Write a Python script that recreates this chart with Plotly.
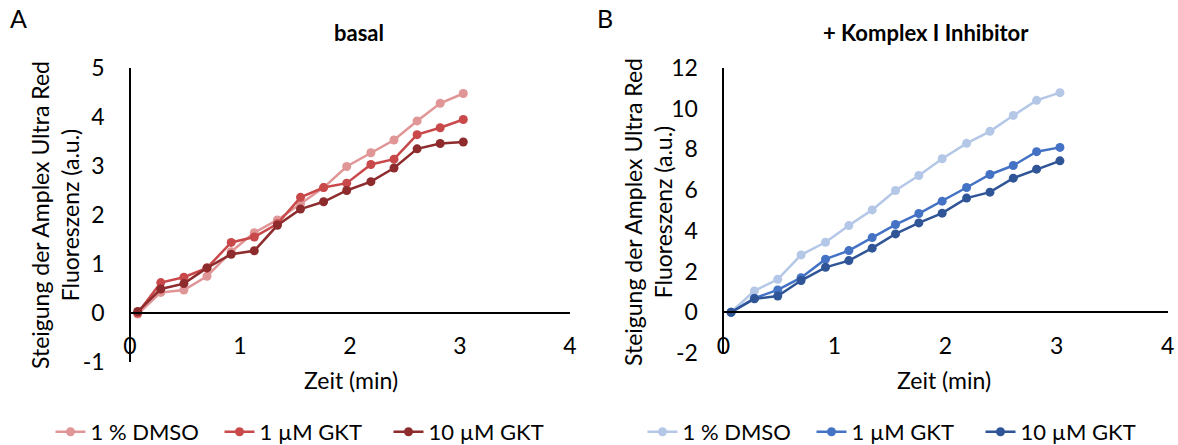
import plotly.graph_objects as go

W, H = 1178, 445

# ---- data ----
time_min = [0.07, 0.28, 0.49, 0.70, 0.92, 1.13, 1.34, 1.55, 1.76, 1.97, 2.19, 2.40, 2.61, 2.82, 3.03]

basal_dmso = [-0.02, 0.42, 0.47, 0.75, 1.25, 1.64, 1.90, 2.23, 2.56, 2.99, 3.27, 3.53, 3.92, 4.28, 4.48]
basal_gkt1 = [0.00, 0.62, 0.73, 0.92, 1.44, 1.55, 1.82, 2.36, 2.56, 2.65, 3.03, 3.14, 3.64, 3.78, 3.95]
basal_gkt10 = [0.03, 0.49, 0.60, 0.92, 1.20, 1.27, 1.79, 2.12, 2.27, 2.50, 2.68, 2.96, 3.35, 3.46, 3.49]

inh_dmso = [0.00, 1.05, 1.62, 2.82, 3.44, 4.26, 5.03, 5.98, 6.72, 7.54, 8.30, 8.89, 9.67, 10.41, 10.79]
inh_gkt1 = [0.00, 0.69, 1.10, 1.70, 2.61, 3.03, 3.67, 4.31, 4.85, 5.46, 6.13, 6.77, 7.21, 7.89, 8.10]
inh_gkt10 = [0.00, 0.66, 0.80, 1.56, 2.21, 2.54, 3.15, 3.85, 4.39, 4.87, 5.61, 5.90, 6.59, 7.03, 7.44]

series_names = ["1 % DMSO", "1 µM GKT", "10 µM GKT"]
red_colors = ["#E09596", "#C9494B", "#8E2B2D"]
blue_colors = ["#B4C7E7", "#4472C4", "#2F5597"]

x_ticks = [0, 1, 2, 3, 4]
y_ticks_left = [-1, 0, 1, 2, 3, 4, 5]
y_ticks_right = [-2, 0, 2, 4, 6, 8, 10, 12]

FONT = "Lato, 'Open Sans', sans-serif"
FS = 23

def px(x):
    return x / W

def py(y):
    return (H - y) / H

fig = go.Figure()

for name, ys, col in zip(series_names, [basal_dmso, basal_gkt1, basal_gkt10], red_colors):
    fig.add_trace(go.Scatter(x=time_min, y=ys, mode="lines+markers", name=name,
                             line=dict(color=col, width=2.5), marker=dict(color=col, size=9),
                             xaxis="x", yaxis="y", legend="legend"))
for name, ys, col in zip(series_names, [inh_dmso, inh_gkt1, inh_gkt10], blue_colors):
    fig.add_trace(go.Scatter(x=time_min, y=ys, mode="lines+markers", name=name,
                             line=dict(color=col, width=2.5), marker=dict(color=col, size=9),
                             xaxis="x2", yaxis="y2", legend="legend2"))

tickfont = dict(family=FONT, size=FS, color="#000")

common_x = dict(range=[0, 4], tickvals=x_ticks, showgrid=False, zeroline=False,
                showline=True, linecolor="#000", linewidth=1.5,
                ticks="outside", ticklen=13, tickcolor="rgba(0,0,0,0)",
                tickfont=tickfont, anchor="free")
common_y = dict(showgrid=False, zeroline=False, showline=True, linecolor="#000", linewidth=1.5,
                ticks="outside", ticklen=20, tickcolor="rgba(0,0,0,0)", tickfont=tickfont)

legend_common = dict(orientation="h", yanchor="middle", font=dict(family=FONT, size=22),
                     bgcolor="rgba(0,0,0,0)", entrywidthmode="pixels", entrywidth=124)

fig.update_layout(
    width=W, height=H,
    margin=dict(l=0, r=0, t=0, b=0, autoexpand=False),
    paper_bgcolor="white", plot_bgcolor="rgba(0,0,0,0)",
    font=dict(family=FONT, color="#000"),
    xaxis=dict(domain=[px(130), px(570)], position=py(313), **common_x),
    yaxis=dict(domain=[py(362), py(68)], range=[-1, 5], tickvals=y_ticks_left,
               ticktext=[str(v) for v in y_ticks_left],
               anchor="free", position=px(130), **common_y),
    xaxis2=dict(domain=[px(723.3), px(1167.7)], position=py(312.3), **common_x),
    yaxis2=dict(domain=[py(353), py(68)], range=[-2, 12], tickvals=y_ticks_right,
                ticktext=[str(v) for v in y_ticks_right],
                anchor="free", position=px(723.3), **common_y),
    legend=dict(x=px(304), xanchor="center", y=py(432), **legend_common),
    legend2=dict(x=px(896), xanchor="center", y=py(432), **legend_common),
    showlegend=True,
)

ann = []
ann.append(dict(text="A", x=px(18), y=py(18), font=dict(size=25)))
ann.append(dict(text="B", x=px(605), y=py(18), font=dict(size=25)))
ann.append(dict(text="<b>basal</b>", x=px(359), y=py(32), font=dict(size=22)))
ann.append(dict(text="<b>+ Komplex I Inhibitor</b>", x=px(926), y=py(32), font=dict(size=22)))
ann.append(dict(text="Zeit (min)", x=px(351), y=py(380), font=dict(size=FS)))
ann.append(dict(text="Zeit (min)", x=px(944), y=py(380), font=dict(size=FS)))
ann.append(dict(text="Steigung der Amplex Ultra Red<br>Fluoreszenz (a.u.)", x=px(55), y=py(215),
                textangle=-90, font=dict(size=FS)))
ann.append(dict(text="Steigung der Amplex Ultra Red<br>Fluoreszenz (a.u.)", x=px(648), y=py(212),
                textangle=-90, font=dict(size=FS)))
for a in ann:
    a.update(xref="paper", yref="paper", showarrow=False, xanchor="center", yanchor="middle")
    a["font"].update(family=FONT, color="#000")
fig.update_layout(annotations=ann)

fig.write_html("out.html")
